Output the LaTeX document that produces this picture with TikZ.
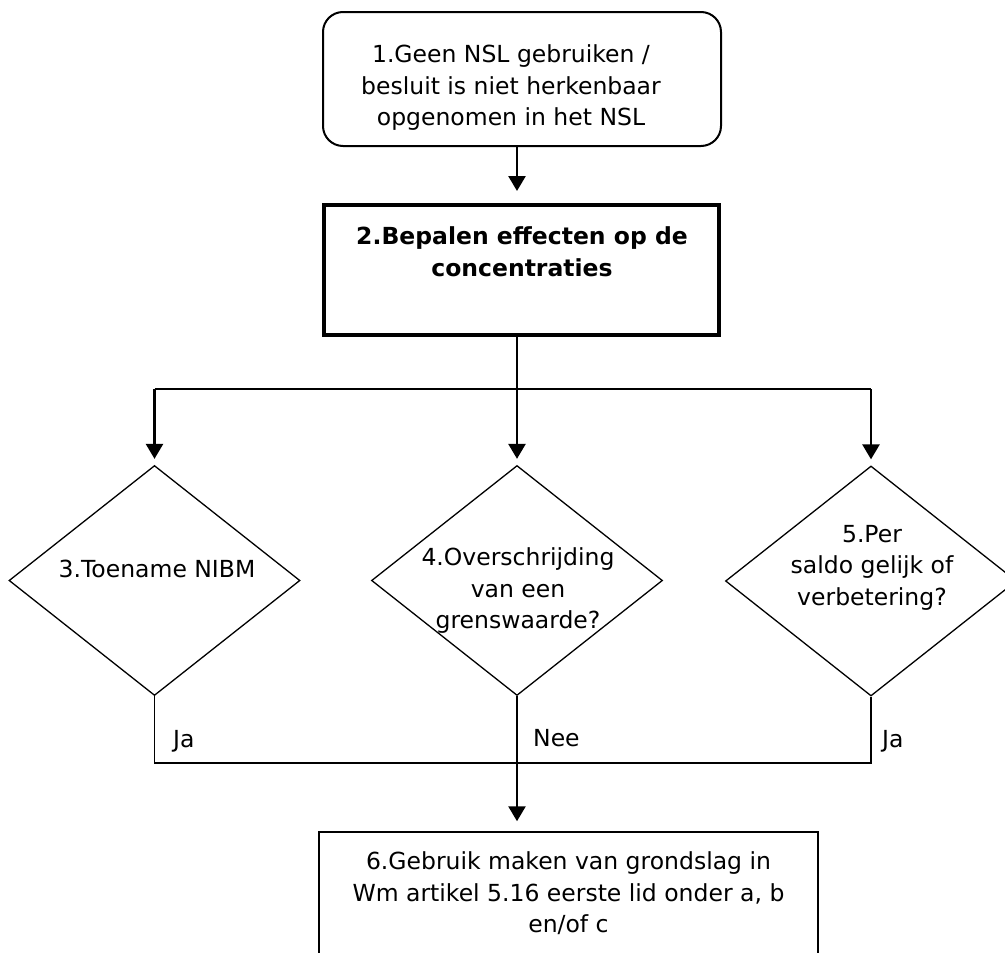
\documentclass[tikz,border=0pt]{standalone}
\usepackage{fontspec}
\setmainfont{DejaVu Sans}
\usetikzlibrary{shapes.geometric,arrows.meta}

\tikzset{
  txt/.style={font=\fontsize{23.5}{31.5}\selectfont, align=center, inner sep=0pt},
  lbl/.style={font=\fontsize{23.5}{31.5}\selectfont, inner sep=0pt, anchor=base west},
  startbox/.style={draw, rounded corners=20pt, line width=2pt,
    minimum width=398pt, minimum height=134pt, inner sep=0pt},
  boldbox/.style={draw, line width=4pt, minimum width=395pt, minimum height=130pt, inner sep=0pt},
  endbox/.style={draw, line width=1.5pt, minimum width=499pt, minimum height=160pt, inner sep=0pt},
  choice/.style={draw, shape=diamond, line width=1.3pt, minimum width=291pt,
    minimum height=230pt, inner sep=0pt},
  flow/.style={line width=2.6pt, -{Triangle[width=17pt,length=15pt]}},
  conn/.style={line width=1.6pt},
}

\begin{document}
\begin{tikzpicture}[x=1pt, y=-1pt]
  \useasboundingbox (0,0) rectangle (1005,953);

  % boxes
  \node[startbox] (b1) at (522,79) {};
  \node[txt] (b1t) at (511,88) {1.Geen NSL gebruiken /\\besluit is niet herkenbaar\\opgenomen in het NSL};

  \node[boldbox] (b2) at (521.5,270) {};
  \node[txt, font=\fontsize{23.5}{32}\selectfont\bfseries] (b2t) at (522,252) {2.Bepalen effecten op de\\concentraties};

  % decisions
  \node[choice] (d3) at (154.5,580.5) {};
  \node[txt, anchor=base] (d3t) at (157,577) {3.Toename NIBM};

  \node[choice] (d4) at (517,580.5) {};
  \node[txt] (d4t) at (518,591) {4.Overschrijding\\van een\\grenswaarde?};

  \node[choice] (d5) at (871,581) {};
  \node[txt] (d5t) at (872,567.5) {5.Per\\saldo gelijk of\\verbetering?};

  % result
  \node[endbox] (b6) at (568.5,912) {};
  \node[txt] (b6t) at (568.5,893.5) {6.Gebruik maken van grondslag in\\Wm artikel 5.16 eerste lid onder a, b\\en/of c};

  % branch and merge points
  \coordinate (split) at (517,389);
  \coordinate (join) at (517,763);

  % connectors
  \draw[flow, shorten >=12pt] (b1.south -| d4) -- (b2.north -| d4);
  \draw[line width=2.6pt] (b2.south -| d4) -- (split);
  \draw[conn] (d3 |- split) -- (d5 |- split);
  \draw[flow, shorten >=6pt] (d3 |- split) -- (d3.north);
  \draw[flow, shorten >=6pt] (split) -- (d4.north);
  \draw[flow, shorten >=6pt] (d5 |- split) -- (d5.north);

  \draw[conn] (d3.south) -- (d3.south |- join) -- (d5.south |- join) -- (d5.south);
  \draw[flow, shorten >=10pt] (d4.south) -- (b6.north -| d4);

  % branch labels
  \node[lbl] (l3) at (173,747) {Ja};
  \node[lbl] (l4) at (533,746) {Nee};
  \node[lbl] (l5) at (882,747) {Ja};
\end{tikzpicture}
\end{document}
